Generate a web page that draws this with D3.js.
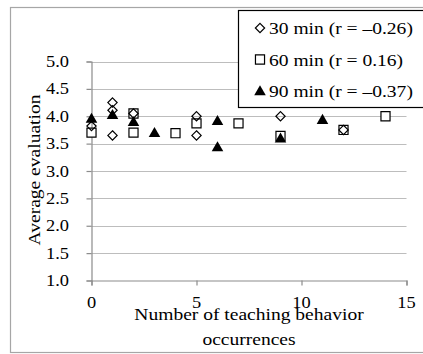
<!DOCTYPE html>
<html>
<head>
<meta charset="utf-8">
<script src="https://cdn.jsdelivr.net/npm/d3@7"></script>
<style>
  html, body { margin: 0; padding: 0; background: #fff; }
  svg { display: block; }
  svg text { font-family: "Liberation Serif", "Times New Roman", Tinos, "DejaVu Serif", serif; }
</style>
</head>
<body>
<svg id="chart" width="423" height="354"></svg>
<script>
// Occurrence counts (x) and average evaluation (y) per session length
const series30 = [
  [0, 3.82], [1, 4.25], [1, 4.11], [1, 3.65], [2, 4.05],
  [5, 4.0], [5, 3.65], [9, 4.0], [12, 3.75]
];
const series60 = [
  [0, 3.70], [2, 4.05], [2, 3.70], [4, 3.69], [5, 3.87],
  [7, 3.87], [9, 3.64], [12, 3.75], [14, 4.0]
];
const series90 = [
  [0, 3.96], [1, 4.03], [2, 3.90], [3, 3.70], [6, 3.92],
  [6, 3.44], [9, 3.60], [11, 3.94]
];
const legendLabels = ["30 min (r = \u20130.26)", "60 min (r = 0.16)", "90 min (r = \u20130.37)"];
const xTicks = [0, 5, 10, 15];
const yTicks = [1.0, 1.5, 2.0, 2.5, 3.0, 3.5, 4.0, 4.5, 5.0];

const svg = d3.select("#chart");
const W = 423;
const SX = 1.15;            // slightly widened type
const FS = 17;

// Text helper: places a label with its glyphs widened horizontally
function label(g, x, y, str, anchor, size, rot) {
  return g.append("text")
    .attr("transform", `translate(${x},${y})` + (rot ? ` rotate(${rot})` : "") + ` scale(${SX},1)`)
    .attr("text-anchor", anchor || "start")
    .attr("font-size", size || FS)
    .attr("fill", "#000")
    .text(str);
}

// Outer frame
svg.append("rect")
  .attr("x", 10.5).attr("y", 7.5)
  .attr("width", W).attr("height", 345)
  .attr("fill", "none").attr("stroke", "#a6a6a6").attr("stroke-width", 1.2);

const x = d3.scaleLinear().domain([0, 15]).range([91.5, 406.5]);
const y = d3.scaleLinear().domain([1, 5]).range([280.5, 61.5]);

// Horizontal gridlines
svg.append("g").selectAll("line").data(yTicks.filter(d => d > 1)).join("line")
  .attr("x1", x(0)).attr("x2", x(15))
  .attr("y1", d => Math.round(y(d)) + 0.5).attr("y2", d => Math.round(y(d)) + 0.5)
  .attr("stroke", "#bdbdbd").attr("stroke-width", 1.2);

// Y axis (line and ticks; labels drawn below)
const yAxis = svg.append("g")
  .attr("transform", `translate(${x(0)},0)`)
  .call(d3.axisLeft(y).tickValues(yTicks).tickFormat("").tickSize(5));
yAxis.select(".domain").attr("stroke", "#8c8c8c").attr("stroke-width", 1.2);
yAxis.selectAll(".tick line").attr("stroke", "#8c8c8c").attr("stroke-width", 1.2);

// X axis
const xAxis = svg.append("g")
  .attr("transform", `translate(0,${y(1)})`)
  .call(d3.axisBottom(x).tickValues(xTicks).tickFormat("").tickSize(5));
xAxis.select(".domain").attr("stroke", "#8c8c8c").attr("stroke-width", 1.2);
xAxis.selectAll(".tick line").attr("stroke", "#8c8c8c").attr("stroke-width", 1.2);

// Tick labels
const tl = svg.append("g");
yTicks.forEach(v => label(tl, 69, y(v) + 5.5, d3.format(".1f")(v), "end", 16));
xTicks.forEach(v => label(tl, x(v), 308, d3.format("d")(v), "middle", 16));

// Axis titles
label(svg, 40, 170, "Average evaluation", "middle", FS, -90);
label(svg, 249, 319.5, "Number of teaching behavior", "middle");
label(svg, 249, 345, "occurrences", "middle");

// Marker shapes
const diamond = d3.symbol().type(d3.symbolDiamond2).size(55);
const square = d3.symbol().type(d3.symbolSquare2).size(105);
const triangle = d3.symbol().type(d3.symbolTriangle).size(58);

const pts = svg.append("g");
pts.selectAll(".s60").data(series60).join("path")
  .attr("d", square)
  .attr("transform", d => `translate(${x(d[0])},${y(d[1])})`)
  .attr("fill", "#fff").attr("stroke", "#000").attr("stroke-width", 1.2);
pts.selectAll(".s30").data(series30).join("path")
  .attr("d", diamond)
  .attr("transform", d => `translate(${x(d[0])},${y(d[1])})`)
  .attr("fill", "none").attr("stroke", "#000").attr("stroke-width", 1.2);
pts.selectAll(".s90").data(series90).join("path")
  .attr("d", triangle)
  .attr("transform", d => `translate(${x(d[0])},${y(d[1]) + 1})`)
  .attr("fill", "#000");

// Legend
const lg = svg.append("g");
lg.append("rect")
  .attr("x", 238.5).attr("y", 10.5).attr("width", 190).attr("height", 97)
  .attr("fill", "#fff").attr("stroke", "#000").attr("stroke-width", 1.2);
const legendMarks = [
  { sym: diamond, fill: "none", stroke: "#000" },
  { sym: square, fill: "#fff", stroke: "#000" },
  { sym: triangle, fill: "#000", stroke: "none" }
];
legendLabels.forEach((t, i) => {
  const cy = 28 + i * 31.5;
  lg.append("path")
    .attr("d", legendMarks[i].sym)
    .attr("transform", `translate(260,${cy + (i === 2 ? 1 : 0)})`)
    .attr("fill", legendMarks[i].fill).attr("stroke", legendMarks[i].stroke)
    .attr("stroke-width", 1.2);
  label(lg, 269, cy + 6, t, "start", FS);
});
</script>
</body>
</html>
